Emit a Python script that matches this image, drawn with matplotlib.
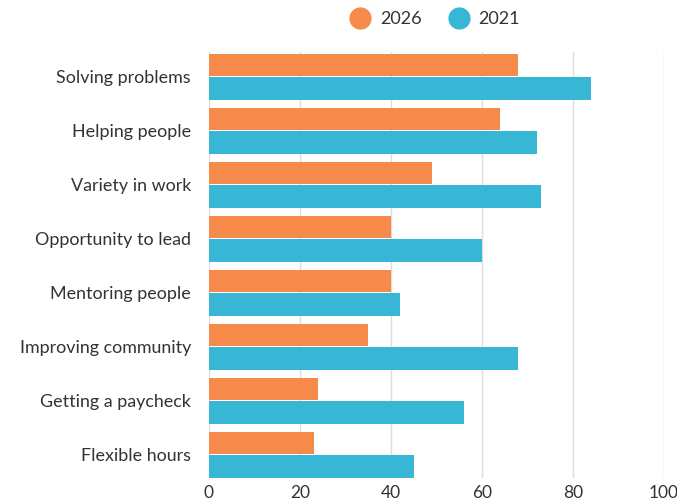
import matplotlib
matplotlib.use("Agg")
import matplotlib.pyplot as plt
from matplotlib.lines import Line2D
import numpy as np

categories = ["Solving problems", "Helping people", "Variety in work", "Opportunity to lead",
              "Mentoring people", "Improving community", "Getting a paycheck", "Flexible hours"]
v2026 = [68, 64, 49, 40, 40, 35, 24, 23]
v2021 = [84, 72, 73, 60, 42, 68, 56, 45]
xticks = [0, 20, 40, 60, 80, 100]

orange = "#F58A4B"
blue = "#37B6D5"
txt = "#333333"

plt.rcParams['font.family'] = ['Lato', 'DejaVu Sans']

fig = plt.figure(figsize=(6.77, 5.03), dpi=100)
ax = fig.add_axes([209/677, 25/503, (664-209)/677, (478-52)/503])

y = np.arange(len(categories))
h = 0.42
ax.barh(y - h/2 - 0.01, v2026, height=h, color=orange, zorder=3)
ax.barh(y + h/2 + 0.01, v2021, height=h, color=blue, zorder=3)

ax.set_xlim(0, 100)
ax.set_ylim(len(categories) - 1 + 0.43, -0.46)
ax.set_yticks(y)
ax.set_yticklabels(categories, fontsize=12.9, color=txt)
ax.set_xticks(xticks)
ax.set_xticklabels([str(t) for t in xticks], fontsize=12.5, color=txt)
ax.tick_params(axis='both', length=0)
ax.tick_params(axis='y', pad=13)
ax.tick_params(axis='x', pad=5)
ax.grid(axis='x', color='#dddddd', linewidth=1, zorder=0)
for s in ax.spines.values():
    s.set_visible(False)

handles = [Line2D([], [], marker='o', linestyle='', markersize=15, color=orange),
           Line2D([], [], marker='o', linestyle='', markersize=15, color=blue)]
fig.legend(handles, ["2026", "2021"], loc='center', bbox_to_anchor=(431/677, 1 - 19/503),
           ncol=2, frameon=False, fontsize=13, handletextpad=0.1, columnspacing=1.05,
           labelcolor=txt)

fig.savefig("out.png", dpi=100)
